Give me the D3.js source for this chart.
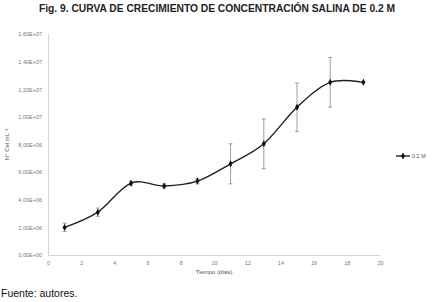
<!DOCTYPE html>
<html>
<head>
<meta charset="utf-8">
<script src="https://cdn.jsdelivr.net/npm/d3@7"></script>
<style>
  body { margin: 0; background: #fff; }
  svg { display: block; font-family: 'Liberation Sans', Arial, sans-serif; }
  .tick-label { fill: #777; font-size: 5.5px; }
  .axis-label { fill: #555; font-size: 6px; }
</style>
</head>
<body>
<svg width="433" height="302"></svg>
<script>
const days = [1, 3, 5, 7, 9, 11, 13, 15, 17, 19];
const cells = [2.0e6, 3.1e6, 5.2e6, 5.0e6, 5.35e6, 6.6e6, 8.05e6, 10.7e6, 12.5e6, 12.5e6];
const errors = [0.3e6, 0.3e6, 0.15e6, 0.15e6, 0.2e6, 1.45e6, 1.8e6, 1.75e6, 1.8e6, 0];
const xTicks = [0, 2, 4, 6, 8, 10, 12, 14, 16, 18, 20];
const yTicks = [0, 2e6, 4e6, 6e6, 8e6, 1e7, 1.2e7, 1.4e7, 1.6e7];
const yTickLabels = ['0,00E+00', '2,00E+06', '4,00E+06', '6,00E+06', '8,00E+06',
                     '1,00E+07', '1,20E+07', '1,40E+07', '1,60E+07'];
const seriesName = '0.2 M';

const svg = d3.select('svg');
const data = days.map((d, i) => ({ day: d, value: cells[i], err: errors[i] }));

const margin = { left: 48, right: 53, top: 34, bottom: 47 };
const width = +svg.attr('width');
const height = +svg.attr('height');

const xScale = d3.scaleLinear().domain([0, 20]).range([margin.left, width - margin.right]);
const yScale = d3.scaleLinear().domain([0, 1.6e7]).range([height - margin.bottom, margin.top]);

// title
svg.append('text')
  .attr('x', 217).attr('y', 12)
  .attr('text-anchor', 'middle')
  .attr('font-weight', 'bold')
  .attr('font-size', 10)
  .attr('fill', '#222')
  .attr('textLength', 356)
  .attr('lengthAdjust', 'spacingAndGlyphs')
  .text('Fig. 9. CURVA DE CRECIMIENTO DE CONCENTRACIÓN SALINA DE 0.2 M');

// axes
const xAxis = d3.axisBottom(xScale).tickValues(xTicks).tickSize(0).tickPadding(6);
const yAxis = d3.axisLeft(yScale).tickValues(yTicks).tickSize(0).tickPadding(6)
  .tickFormat((d, i) => yTickLabels[i]);

const xg = svg.append('g')
  .attr('transform', `translate(0, ${yScale(0)})`)
  .call(xAxis);
const yg = svg.append('g')
  .attr('transform', `translate(${margin.left}, 0)`)
  .call(yAxis);

[xg, yg].forEach(g => {
  g.select('.domain').attr('stroke', '#d4d4d4').attr('stroke-width', 1);
  g.selectAll('.tick text').attr('class', 'tick-label').attr('fill', null);
});

xg.append('text')
  .attr('class', 'axis-label')
  .attr('x', xScale(10)).attr('y', 19)
  .attr('text-anchor', 'middle')
  .text('Tiempo (días)');

svg.append('text')
  .attr('class', 'axis-label')
  .attr('transform', `translate(9, ${(yScale(0) + yScale(1.6e7)) / 2}) rotate(-90)`)
  .attr('text-anchor', 'middle')
  .text('N° Cel mL⁻¹');

// error bars
const eb = svg.append('g').attr('stroke', '#888').attr('stroke-width', 0.8);
data.filter(d => d.err > 0).forEach(d => {
  const x = xScale(d.day);
  eb.append('line').attr('x1', x).attr('x2', x)
    .attr('y1', yScale(d.value - d.err)).attr('y2', yScale(d.value + d.err));
  [d.value - d.err, d.value + d.err].forEach(v => {
    eb.append('line').attr('x1', x - 2).attr('x2', x + 2)
      .attr('y1', yScale(v)).attr('y2', yScale(v));
  });
});

// smoothed line
const line = d3.line()
  .x(d => xScale(d.day))
  .y(d => yScale(d.value))
  .curve(d3.curveCatmullRom.alpha(0));

svg.append('path')
  .datum(data)
  .attr('d', line)
  .attr('fill', 'none')
  .attr('stroke', '#222')
  .attr('stroke-width', 1.4);

const diamond = d3.symbol().type(d3.symbolDiamond).size(14);
svg.selectAll('.marker')
  .data(data)
  .enter()
  .append('path')
    .attr('class', 'marker')
    .attr('d', diamond)
    .attr('fill', '#111')
    .attr('transform', d => `translate(${xScale(d.day)}, ${yScale(d.value)})`);

// legend
const lg = svg.append('g').attr('transform', 'translate(396, 156)');
lg.append('line').attr('x1', 0).attr('x2', 14).attr('stroke', '#222').attr('stroke-width', 1.4);
lg.append('path').attr('d', diamond).attr('transform', 'translate(7, 0)').attr('fill', '#111');
lg.append('text')
  .attr('x', 16).attr('y', 2)
  .attr('font-size', 5.5)
  .attr('fill', '#555')
  .text(seriesName);

// source note
svg.append('text')
  .attr('x', 1).attr('y', 297)
  .attr('font-size', 10.5)
  .attr('fill', '#111')
  .text('Fuente: autores.');
</script>
</body>
</html>
